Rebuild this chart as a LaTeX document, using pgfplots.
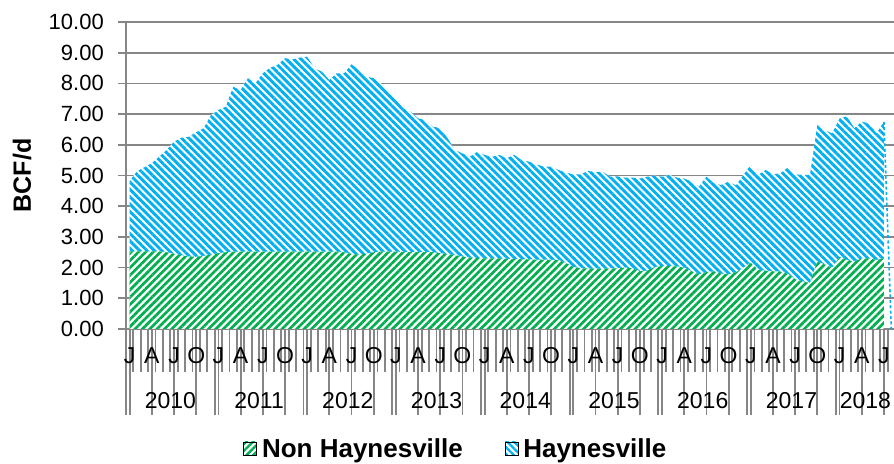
\documentclass[border=0pt]{standalone}
\usepackage{fontspec}
\setmainfont{Liberation Sans}
\usepackage{pgfplots}
\pgfplotsset{compat=1.18}
\usepackage{pgfplotstable}
\usetikzlibrary{patterns.meta}
\definecolor{axisgray}{HTML}{868686}
\definecolor{hblue}{HTML}{00B0F0}
\definecolor{ngreen}{HTML}{00B050}

\pgfplotstableread{
i non hay
0 2.53 2.30
1 2.53 2.61
2 2.53 2.74
3 2.53 2.87
4 2.53 3.09
5 2.50 3.33
6 2.45 3.65
7 2.40 3.83
8 2.36 3.90
9 2.35 4.06
10 2.38 4.16
11 2.42 4.55
12 2.47 4.66
13 2.50 4.74
14 2.52 5.37
15 2.52 5.26
16 2.52 5.65
17 2.52 5.48
18 2.52 5.81
19 2.52 5.99
20 2.52 6.08
21 2.52 6.30
22 2.52 6.26
23 2.52 6.32
24 2.52 6.35
25 2.52 5.97
26 2.52 5.86
27 2.52 5.59
28 2.52 5.81
29 2.50 5.83
30 2.45 6.17
31 2.42 6.02
32 2.45 5.77
33 2.50 5.67
34 2.52 5.48
35 2.52 5.21
36 2.52 4.94
37 2.51 4.68
38 2.50 4.58
39 2.50 4.36
40 2.50 4.31
41 2.50 4.09
42 2.47 4.07
43 2.44 3.77
44 2.40 3.43
45 2.36 3.36
46 2.33 3.28
47 2.31 3.46
48 2.30 3.37
49 2.30 3.31
50 2.30 3.37
51 2.28 3.28
52 2.28 3.39
53 2.27 3.23
54 2.27 3.18
55 2.26 3.10
56 2.26 3.03
57 2.25 3.04
58 2.25 2.93
59 2.15 2.94
60 2.02 3.02
61 1.98 3.06
62 1.97 3.18
63 1.97 3.14
64 1.96 3.16
65 1.97 2.99
66 1.98 2.99
67 2.00 2.93
68 1.98 2.95
69 1.88 3.02
70 1.90 3.06
71 2.02 2.98
72 2.05 2.91
73 2.05 2.97
74 2.04 2.89
75 2.00 2.90
76 1.88 2.92
77 1.78 2.86
78 1.85 3.11
79 1.88 2.87
80 1.80 2.89
81 1.78 3.02
82 1.85 2.83
83 2.00 3.02
84 2.15 3.19
85 1.92 3.10
86 1.90 3.28
87 1.88 3.16
88 1.87 3.20
89 1.80 3.46
90 1.62 3.42
91 1.55 3.47
92 1.50 3.52
93 2.20 4.44
94 2.10 4.38
95 2.00 4.37
96 2.35 4.51
97 2.25 4.67
98 2.20 4.34
99 2.30 4.45
100 2.30 4.40
101 2.25 4.12
102 2.30 4.45
}\datatable

\begin{document}
\begin{tikzpicture}
\begin{axis}[
  scale only axis, width=384.5pt, height=153.5pt,
  at={(0,0)}, anchor=south west,
  xmin=-0.5, xmax=103.5, ymin=0, ymax=10,
  axis x line=bottom, axis y line=left,
  axis line style={draw=axisgray, line width=0.85pt, -},
  clip=false,
  ytick={0,1,...,10},
  ymajorgrids,
  grid style={draw=axisgray, line width=0.85pt},
  tick align=outside,
  ytick style={draw=axisgray, line width=0.85pt, /pgfplots/major tick length=4pt},
  y tick label style={font=\fontsize{11}{13}\selectfont,
     /pgf/number format/fixed, /pgf/number format/fixed zerofill,
     /pgf/number format/precision=2, /pgf/number format/assume math mode=true,
     xshift=-3.3pt},
  xtick={-0.5,11.5,23.5,35.5,47.5,59.5,71.5,83.5,95.5,103.5},
  xticklabels={},
  minor xtick={-0.5,0.5,...,103.5},
  xtick style={draw=axisgray, line width=0.9pt, /pgfplots/major tick length=43pt, /pgfplots/minor tick length=21.5pt},
  extra x ticks={0,3,...,102},
  extra x tick labels={J,A,J,O,J,A,J,O,J,A,J,O,J,A,J,O,J,A,J,O,J,A,J,O,J,A,J,O,J,A,J,O,J,A,J},
  extra x tick style={grid=none, /pgfplots/major tick length=0pt,
     tick label style={anchor=center, yshift=-13.25pt, font=\fontsize{11.5}{13}\selectfont}},
  ylabel={BCF/d},
  every axis y label/.style={at={(axis description cs:-0.1352,0.5)}, rotate=90, anchor=center,
     font=\bfseries\fontsize{12.5}{15}\selectfont},
  legend style={at={([yshift=-60.5pt]axis description cs:0.4298,0)}, anchor=center,
     draw=none, fill=none, legend columns=2,
     /tikz/every even column/.append style={column sep=18.5pt},
     font=\bfseries\fontsize{13}{15}\selectfont},
  legend cell align=left,
]
\addplot[draw=none, forget plot, preaction={fill=white},
  pattern={Lines[angle=-45,distance=2.6pt,line width=1.45pt]}, pattern color=hblue]
  table[x=i, y expr=\thisrow{non}+\thisrow{hay}] {\datatable} \closedcycle;
\addplot[draw=none, forget plot, preaction={fill=white},
  pattern={Lines[angle=45,distance=2.6pt,line width=1.35pt]}, pattern color=ngreen]
  table[x=i, y=non] {\datatable} \closedcycle;
\addplot[forget plot, hblue, line width=0.8pt, dash pattern=on 1.5pt off 1.2pt]
  coordinates {(102,6.75) (103,0)};
\addlegendimage{legend image code/.code={\path[pattern={Lines[angle=45,distance=2.4pt,line width=1.2pt]}, pattern color=ngreen] (0pt,-2.5pt) rectangle (6.5pt,4pt);}}
\addlegendentry{Non Haynesville}
\addlegendimage{legend image code/.code={\path[pattern={Lines[angle=-45,distance=2.4pt,line width=1.2pt]}, pattern color=hblue] (0pt,-2.5pt) rectangle (6.5pt,4pt);}}
\addlegendentry{Haynesville}
\foreach \yr/\c in {2010/5.5,2011/17.5,2012/29.5,2013/41.5,2014/53.5,2015/65.5,2016/77.5,2017/89.5,2018/99.5}{
  \edef\temp{\noexpand\node[anchor=center, font=\noexpand\fontsize{11.5}{13}\noexpand\selectfont] at ([yshift=-35.75pt]axis cs:\c,0) {\yr};}
  \temp
}
\end{axis}
\pgfresetboundingbox
\useasboundingbox (-63pt,-67.5pt) rectangle (384pt,164.5pt);
\end{tikzpicture}
\end{document}
